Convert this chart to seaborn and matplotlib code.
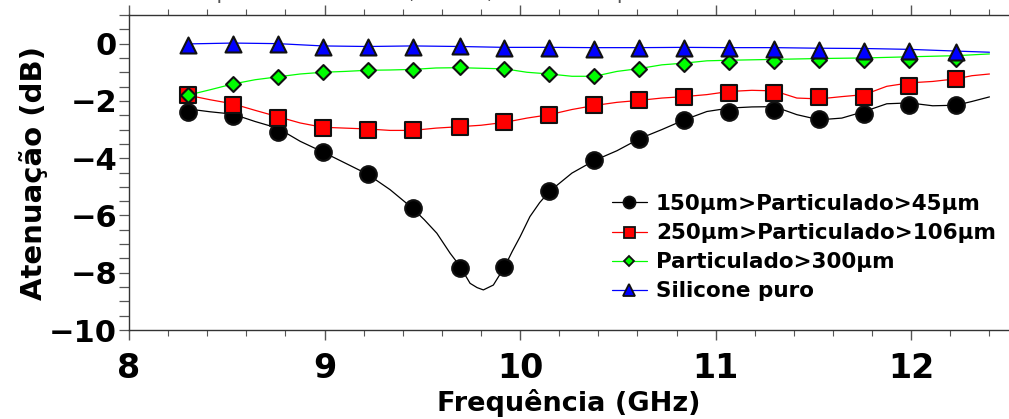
import matplotlib
matplotlib.use("Agg")
import matplotlib.pyplot as plt
from matplotlib.lines import Line2D
from matplotlib.ticker import MultipleLocator
import seaborn as sns
import pandas as pd

# Marker positions (GHz)
marker_freq = [8.30, 8.53, 8.76, 8.99, 9.22, 9.45, 9.69, 9.92, 10.15,
               10.38, 10.61, 10.84, 11.07, 11.30, 11.53, 11.76, 11.99, 12.23]

# Attenuation at the marker positions (dB)
p45_marker = [-2.37, -2.54, -3.09, -3.79, -4.56, -5.75, -7.82, -7.80, -5.16,
              -4.08, -3.32, -2.66, -2.40, -2.31, -2.62, -2.46, -2.16, -2.16]
p106_marker = [-1.80, -2.16, -2.60, -2.95, -3.00, -3.03, -2.91, -2.75, -2.48,
               -2.16, -1.98, -1.86, -1.72, -1.72, -1.86, -1.86, -1.47, -1.22]
p300_marker = [-1.81, -1.41, -1.18, -1.00, -0.93, -0.93, -0.83, -0.89, -1.06,
               -1.14, -0.87, -0.71, -0.65, -0.62, -0.58, -0.58, -0.58, -0.54]
pure_marker = [-0.05, 0.00, -0.02, -0.12, -0.12, -0.12, -0.09, -0.15, -0.16,
               -0.17, -0.16, -0.16, -0.15, -0.17, -0.21, -0.24, -0.27, -0.30]

# Measured curves (GHz, dB)
p45_freq = [8.30, 8.415, 8.53, 8.645, 8.76, 8.875, 8.99, 9.105, 9.22, 9.335,
            9.45, 9.51, 9.574, 9.642, 9.69, 9.744, 9.78, 9.812, 9.863, 9.92,
            9.96, 10.0, 10.05, 10.10, 10.15, 10.265, 10.38, 10.495, 10.61,
            10.725, 10.84, 10.955, 11.07, 11.185, 11.30, 11.415, 11.53, 11.645,
            11.76, 11.875, 11.99, 12.11, 12.23, 12.31, 12.40]
p45_db = [-2.28, -2.38, -2.46, -2.72, -2.95, -3.41, -3.78, -4.17, -4.56, -5.10,
          -5.75, -6.15, -6.62, -7.32, -7.75, -8.37, -8.52, -8.60, -8.43, -7.80,
          -7.25, -6.74, -6.04, -5.55, -5.16, -4.52, -4.08, -3.74, -3.32,
          -3.00, -2.66, -2.37, -2.25, -2.21, -2.20, -2.48, -2.66, -2.60,
          -2.37, -2.10, -2.07, -2.17, -2.15, -2.02, -1.86]

p106_freq = [8.30, 8.415, 8.53, 8.645, 8.76, 8.875, 8.99, 9.105, 9.22, 9.335,
             9.45, 9.57, 9.69, 9.80, 9.92, 10.035, 10.15, 10.265, 10.38, 10.495,
             10.61, 10.725, 10.84, 10.955, 11.07, 11.185, 11.30, 11.415, 11.53,
             11.645, 11.76, 11.875, 11.99, 12.11, 12.23, 12.31, 12.40]
p106_db = [-1.80, -1.96, -2.10, -2.33, -2.55, -2.77, -2.92, -2.95, -2.98, -3.03,
           -3.03, -2.95, -2.90, -2.85, -2.75, -2.60, -2.48, -2.30, -2.16, -2.05,
           -1.98, -1.90, -1.85, -1.78, -1.67, -1.63, -1.65, -1.90, -1.93,
           -1.85, -1.78, -1.49, -1.37, -1.32, -1.23, -1.12, -1.06]

p300_freq = [8.30, 8.415, 8.53, 8.645, 8.76, 8.875, 8.99, 9.105, 9.22, 9.335,
             9.45, 9.57, 9.69, 9.80, 9.92, 10.035, 10.15, 10.265, 10.38, 10.495,
             10.61, 10.725, 10.84, 10.955, 11.07, 11.30, 11.53, 11.76, 11.99,
             12.23, 12.40]
p300_db = [-1.80, -1.61, -1.41, -1.26, -1.16, -1.06, -1.00, -0.97, -0.93, -0.92,
           -0.90, -0.85, -0.84, -0.86, -0.88, -1.00, -1.06, -1.14, -1.14, -0.97,
           -0.87, -0.74, -0.68, -0.60, -0.58, -0.55, -0.52, -0.50, -0.46,
           -0.42, -0.36]

pure_freq = [8.30, 8.53, 8.76, 8.99, 9.22, 9.45, 9.69, 9.92, 10.15, 10.38,
             10.61, 10.84, 11.07, 11.30, 11.53, 11.76, 11.99, 12.23, 12.40]
pure_db = [-0.01, 0.02, 0.00, -0.08, -0.10, -0.08, -0.10, -0.13, -0.13, -0.14,
           -0.14, -0.13, -0.14, -0.14, -0.16, -0.17, -0.20, -0.26, -0.30]

labels = ["150µm>Particulado>45µm", "250µm>Particulado>106µm",
          "Particulado>300µm", "Silicone puro"]

sns.set_style("ticks")
plt.rcParams["font.family"] = ["DejaVu Sans"]
plt.rcParams["text.color"] = "black"
plt.rcParams["axes.labelcolor"] = "black"
plt.rcParams["xtick.labelcolor"] = "black"
plt.rcParams["ytick.labelcolor"] = "black"

fig = plt.figure(figsize=(10.09, 4.19), dpi=100)
ax = fig.add_axes([0.1279, 0.2124, 0.8721, 0.7518])

series = [
    (p45_freq, p45_db, p45_marker, "#000000", "o", 12.0),
    (p106_freq, p106_db, p106_marker, "#ff0000", "s", 11.0),
    (p300_freq, p300_db, p300_marker, "#00ff00", "D", 7.6),
    (pure_freq, pure_db, pure_marker, "#0000ff", "^", 11.5),
]

handles = []
for (lf, ld, md, col, mk, ms), lab in zip(series, labels):
    line_df = pd.DataFrame({"f": lf, "a": ld})
    sns.lineplot(data=line_df, x="f", y="a", ax=ax, color=col, lw=0.9,
                 sort=False, estimator=None, legend=False)
    mk_df = pd.DataFrame({"f": marker_freq, "a": md})
    sns.scatterplot(data=mk_df, x="f", y="a", ax=ax, color=col, marker=mk,
                    s=ms ** 2, edgecolor="#111111", linewidth=1.5, zorder=3,
                    legend=False)
    handles.append(Line2D([], [], color=col, lw=0.9, marker=mk,
                          markersize=ms * 0.72, markerfacecolor=col,
                          markeredgecolor="#111111", markeredgewidth=1.3))

ax.set_xlim(8, 12.5)
ax.set_ylim(-10, 1.0)
ax.xaxis.set_major_locator(MultipleLocator(1))
ax.xaxis.set_minor_locator(MultipleLocator(0.2))
ax.yaxis.set_major_locator(MultipleLocator(2))
ax.yaxis.set_minor_locator(MultipleLocator(0.5))

for side in ["left", "bottom", "top"]:
    ax.spines[side].set_color("#333333")
    ax.spines[side].set_linewidth(1.0)
ax.spines["right"].set_visible(False)

ax.tick_params(axis="x", which="both", top=True, labeltop=False,
               direction="out", color="#555555")
ax.tick_params(axis="x", which="major", length=7, width=1, pad=9,
               labelsize=24)
ax.tick_params(axis="x", which="minor", length=4, width=0.8)
ax.tick_params(axis="y", which="both", direction="out", color="#555555",
               length=7, width=0.9)
ax.tick_params(axis="y", which="major", pad=1.5, labelsize=22)
for t in ax.get_xticklabels() + ax.get_yticklabels():
    t.set_fontweight("bold")

ax.set_xlabel("Frequência (GHz)", fontsize=19.5, fontweight="bold",
              labelpad=3)
ax.set_ylabel("Atenuação (dB)", fontsize=21, fontweight="bold", labelpad=1)

leg = ax.legend(handles, labels, loc="upper left",
                bbox_to_anchor=(611.7 / 1009, 1 - 194 / 419),
                bbox_transform=fig.transFigure, frameon=False,
                prop={"size": 15.5, "weight": "bold"}, handlelength=1.65,
                handletextpad=0.4, labelspacing=0.42, borderpad=0,
                borderaxespad=0)

# Title of the panel, largely above the figure edge
fig.text(0.43, 0.994, "Compósitos de silicone, com 3,0 mm de espessura",
         ha="center", va="bottom", fontsize=15, color="#555555")

fig.savefig("out.png", dpi=100)
